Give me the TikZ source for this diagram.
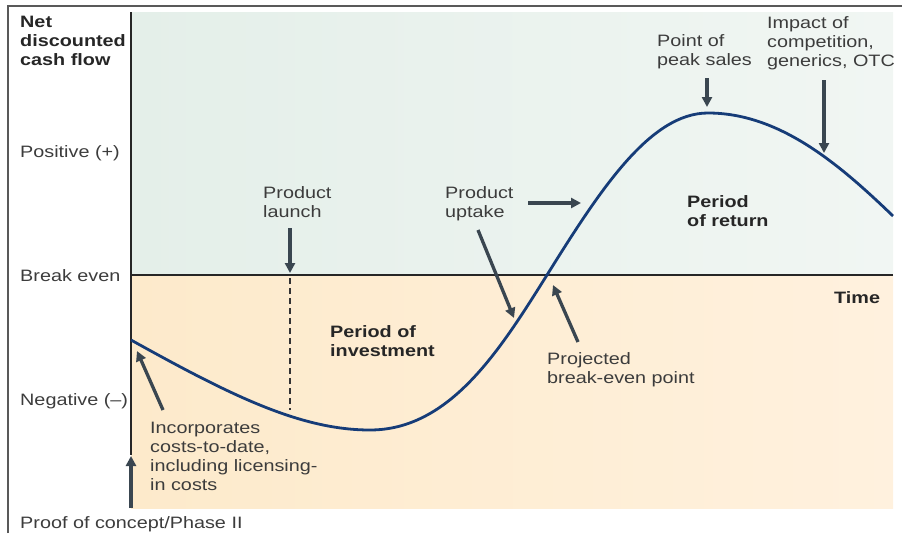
\documentclass[tikz,border=0pt]{standalone}
\usepackage{fontspec}
\setmainfont{Liberation Sans}[FakeStretch=1.2]
\usetikzlibrary{arrows.meta,positioning}
\definecolor{curveblue}{RGB}{22,60,120}
\definecolor{arrowgrey}{RGB}{58,70,80}
\definecolor{textgrey}{RGB}{60,60,60}
\definecolor{greenzone}{RGB}{228,239,233}
\definecolor{greenlight}{RGB}{241,246,243}
\definecolor{orangezone}{RGB}{253,234,203}
\definecolor{orangelight}{RGB}{255,241,222}

\begin{document}
\begin{tikzpicture}[x=1pt,y=-1pt,
    label/.style={inner sep=0pt, text=textgrey, font=\fontsize{16.5}{19}\selectfont, align=left},
    boldlabel/.style={label, text=black!85, font=\fontsize{16.5}{19}\selectfont\bfseries},
    pointer/.style={-{Triangle[length=10pt,width=10pt]}, line width=3.3pt, draw=arrowgrey}]
    \useasboundingbox (0,0) rectangle (902,533);

    % background zones
    \shade[left color=greenzone, right color=greenlight] (131,12) rectangle (893,275);
    \shade[left color=orangezone, right color=orangelight] (131,275) rectangle (893,508);

    % frame and axes
    \draw[black!65, line width=1.3pt] (8,533) -- (8,6) -- (902,6);
    \draw[black!85, line width=1.2pt] (131,12) -- (131,455);
    \draw[black!85, line width=1.2pt] (131,275) -- (893,275);
    \draw[black!80, dash pattern=on 6pt off 4pt, line width=1.2pt] (290,278) -- (290,410);

    % cash flow curve
    \draw[curveblue, line width=2.8pt] (131,340) .. controls (230,395) and (300,430) .. (370,430)
        .. controls (450,430) and (500,350) .. (547,275)
        .. controls (600,190) and (650,113) .. (708,113)
        .. controls (780,113) and (840,165) .. (893,216);

    % axis labels
    \node[boldlabel, anchor=north west] (ncf) at (20,16) {Net\\discounted\\cash flow};
    \node[label, anchor=base west] (pos) at (20,157) {Positive (+)};
    \node[label, anchor=base west] (be) at (20,281) {Break even};
    \node[label, anchor=base west] (neg) at (20,405) {Negative (--)};
    \node[label, anchor=base west] (poc) at (20,528) {Proof of concept/Phase II};
    \node[boldlabel, anchor=base west] (time) at (834,303) {Time};

    % annotations
    \node[label, anchor=north west] (launch) at (263,186) {Product\\launch};
    \node[label, anchor=north west] (uptake) at (445,186) {Product\\uptake};
    \node[boldlabel, anchor=north west] (ret) at (687,195) {Period\\of return};
    \node[boldlabel, anchor=north west] (inv) at (330,325) {Period of\\investment};
    \node[label, anchor=north west] (proj) at (547,352) {Projected\\break-even point};
    \node[label, anchor=north west] (costs) at (150,422) {Incorporates\\costs-to-date,\\including licensing-\\in costs};
    \node[label, anchor=north west] (peak) at (657,34) {Point of\\peak sales};
    \node[label, anchor=north west] (comp) at (767,16) {Impact of\\competition,\\generics, OTC};

    % arrow targets
    \coordinate (launchpt) at (290,273);
    \coordinate (peakpt) at (707,107);
    \coordinate (comppt) at (824,153);
    \coordinate (uptakept) at (581,203);
    \coordinate (uptakelow) at (514,318);
    \coordinate (bept) at (553,285);
    \coordinate (startpt) at (137,351);
    \coordinate (pocpt) at (131,456);
    \coordinate (pocfoot) at (131,508);

    \draw[pointer] (290,228) -- (launchpt);
    \draw[pointer] (707,78) -- (peakpt);
    \draw[pointer] (824,80) -- (comppt);
    \draw[pointer] (528,203) -- (uptakept);
    \draw[pointer] (478,230) -- (uptakelow);
    \draw[pointer] (578,342) -- (bept);
    \draw[pointer] (163,410) -- (startpt);
    \draw[pointer] (pocfoot) -- (pocpt);
\end{tikzpicture}
\end{document}
